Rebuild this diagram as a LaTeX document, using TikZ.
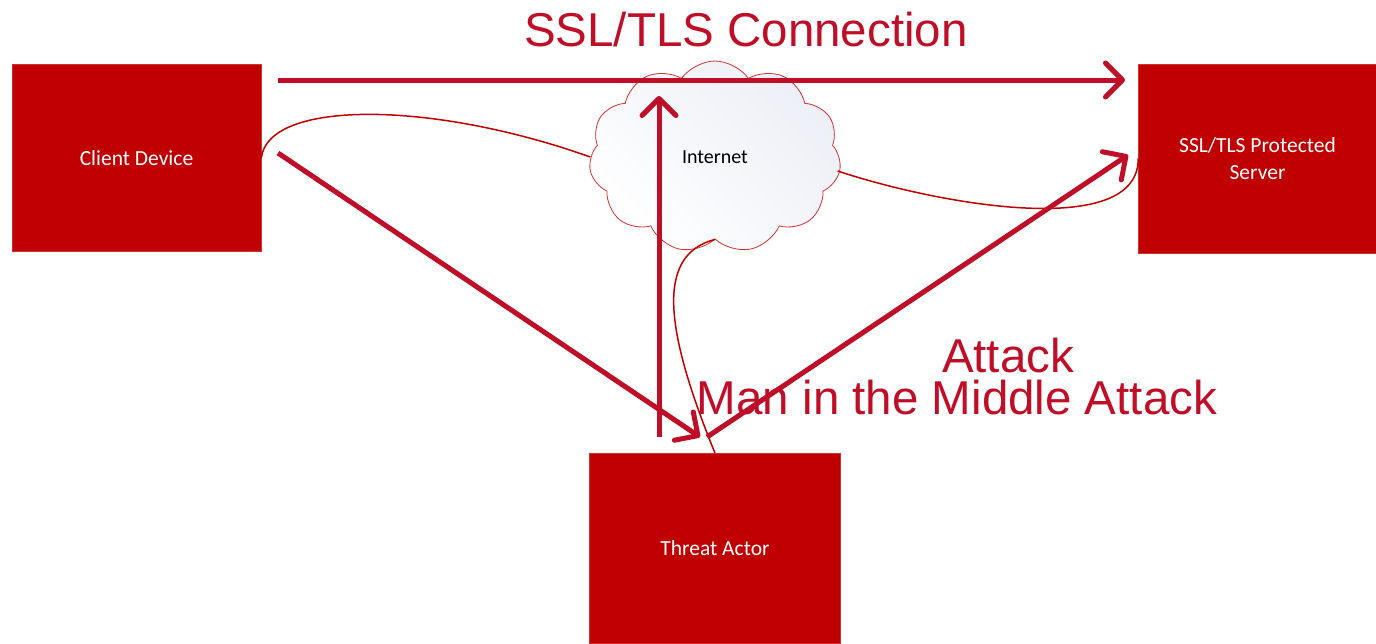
\documentclass[tikz,border=0pt]{standalone}
\usepackage{fontspec}
\setmainfont{Carlito}
\newfontfamily\arialf{Liberation Sans}
\usetikzlibrary{arrows.meta,shapes.symbols}
\definecolor{boxred}{RGB}{192,0,0}
\definecolor{arrred}{RGB}{192,14,40}
\definecolor{cloudline}{RGB}{210,50,50}
\definecolor{cloudfill}{RGB}{236,239,246}
\begin{document}
\begin{tikzpicture}[x=1pt,y=-1pt,
  redbox/.style={rectangle,fill=boxred,draw=boxred!80!white,line width=0.6pt,
    minimum width=249pt,minimum height=187pt,inner sep=0pt,
    text=white,font=\fontsize{21.5}{27}\selectfont,align=center},
  bigarrow/.style={draw=arrred,line width=5pt,
    -{Straight Barb[length=17pt,width=34pt,line width=5pt,round]}},
  thincurve/.style={draw=boxred,line width=1.5pt},
  bigtext/.style={text=arrred,font=\arialf\fontsize{47.5}{50}\selectfont,inner sep=0pt}]
\useasboundingbox (0,0) rectangle (1376,643);

% boxes
\node[redbox] (client) at (136.5,158) {Client Device};
\node[redbox,minimum width=238pt,minimum height=189pt] (server) at (1257.5,158.5) {SSL/TLS Protected\\Server};
\node[redbox,minimum width=251pt,minimum height=190pt] (threat) at (715,548.5) {Threat Actor};

% cloud
\node[cloud,cloud puffs=11,cloud puff arc=110,draw=cloudline,line width=0.8pt,
  top color=cloudfill,bottom color=white,shading angle=-45,
  minimum width=252pt,minimum height=192pt,inner sep=0pt,
  font=\fontsize{20}{24}\selectfont] (cloud) at (715,157) {\raisebox{-3pt}{Internet}};

% thin connectors
\draw[thincurve] (client.east) .. controls (268,100) and (430,100) .. (cloud.west);
\draw[thincurve] (cloud.east) ++(-2,14) coordinate (ce) (ce) .. controls (940,205) and (1139,240) .. (server.west);
\draw[thincurve] (cloud.south) .. controls (655,255) and (665,330) .. (threat.north);

% thick arrows
\coordinate (a1s) at (278,80);
\coordinate (a1e) at (1125,80);
\coordinate (a2s) at (659,437);
\coordinate (a2e) at (659,96);
\coordinate (a3s) at (278,153);
\coordinate (a3e) at (700,437);
\coordinate (a4s) at (707,437);
\coordinate (a4e) at (1128,155);
\draw[bigarrow] (a1s) -- (a1e);
\draw[bigarrow] (a2s) -- (a2e);
\draw[bigarrow] (a3s) -- (a3e);
\draw[bigarrow] (a4s) -- (a4e);

% labels
\node[bigtext,anchor=base] (title) at (746,46) {SSL/TLS Connection};
\node[bigtext,anchor=base] (attack) at (1008,372) {Attack};
\node[bigtext,anchor=base] (mitm) at (957,414) {Man in the Middle Attack};
\end{tikzpicture}
\end{document}
